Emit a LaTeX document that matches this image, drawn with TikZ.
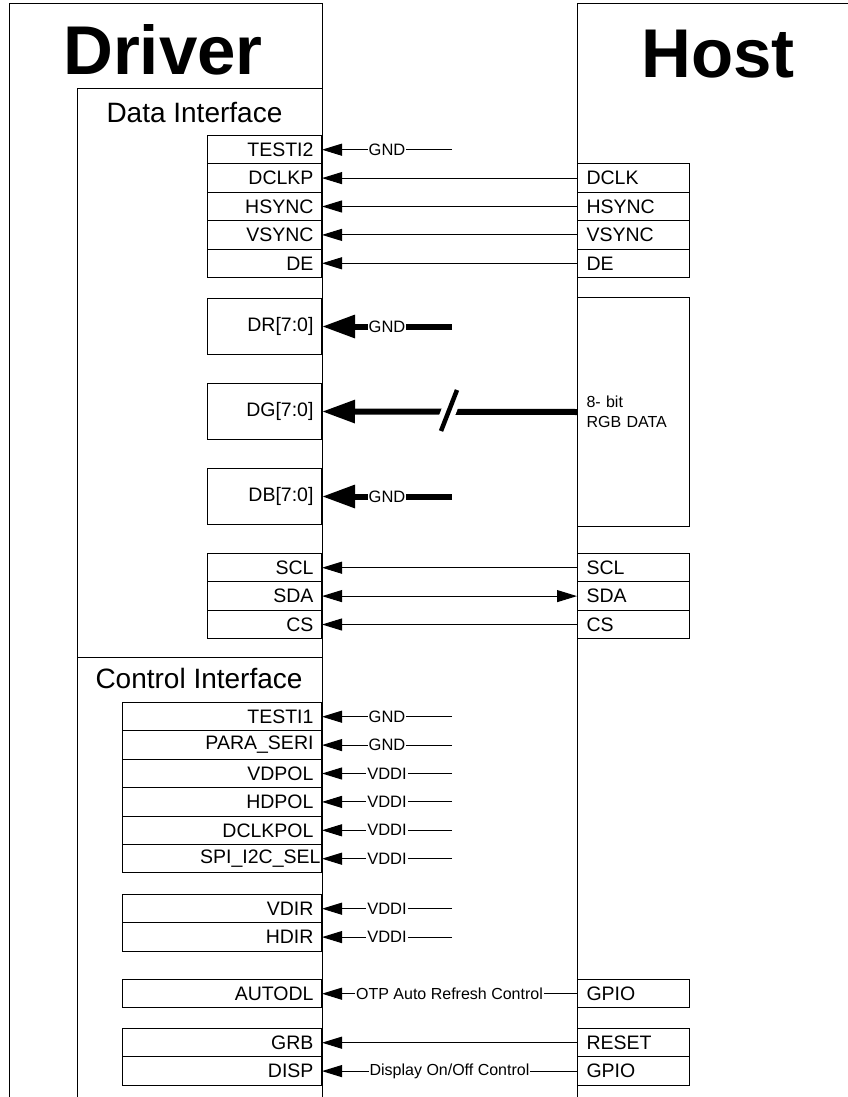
\documentclass[tikz,border=0pt]{standalone}
\usepackage{fontspec}
\setmainfont{Liberation Sans}
\usetikzlibrary{arrows.meta}

\begin{document}
\begin{tikzpicture}[x=1pt, y=-1pt, line width=1pt,
	title/.style={font=\fontsize{69}{72}\selectfont\bfseries},
	section/.style={anchor=base west, inner sep=0pt, font=\fontsize{28}{32}\selectfont},
	drvpin/.style={draw, rectangle, anchor=north east, minimum height=28.4pt, inner xsep=8pt, inner ysep=0pt, align=right, font=\fontsize{19.5}{22}\selectfont},
	datapin/.style={drvpin, text width=98pt},
	ctrlpin/.style={drvpin, text width=183pt},
	hostpin/.style={draw, rectangle, anchor=north west, minimum height=28.4pt, inner xsep=9pt, inner ysep=0pt, text width=94pt, align=left, font=\fontsize{19.5}{22}\selectfont},
	sig/.style={line width=1pt, -{Triangle[length=20pt,width=12pt]}},
	bus/.style={line width=6pt, -{Triangle[length=33pt,width=22pt]}},
	lbl/.style={fill=white, inner xsep=1pt, inner ysep=0pt, font=\fontsize{16.5}{18}\selectfont},
	]
		\useasboundingbox (0,0) rectangle (847,1097);
		% chip outlines
		\draw (9,1105) -- (9,4) -- (322,4) -- (322,1105);
		\draw (577,1105) -- (577,4) -- (855,4);
		\draw (77,1105) -- (77,89) -- (322,89);
		\draw (77,657) -- (322,657);
		\draw (163,75) node[title, anchor=base](drvname){Driver};
		\draw (718,78) node[title, anchor=base](hostname){Host};
		\draw (106,123) node[section](dataif){Data Interface};
		\draw (95,688) node[section](ctrlif){Control Interface};
		% data interface pins
		\draw (322,135) node[datapin](testi2){TESTI2};
		\draw (322,163.4) node[datapin](dclkp){DCLKP};
		\draw (322,191.8) node[datapin](hsyncd){HSYNC};
		\draw (322,220.2) node[datapin](vsyncd){VSYNC};
		\draw (322,248.6) node[datapin](ded){DE};
		\draw (322,298) node[datapin, minimum height=56pt](dr){DR[7:0]};
		\draw (322,383) node[datapin, minimum height=56pt](dg){DG[7:0]};
		\draw (322,468) node[datapin, minimum height=56pt](db){DB[7:0]};
		\draw (322,553) node[datapin](scld){SCL};
		\draw (322,581.4) node[datapin](sdad){SDA};
		\draw (322,609.8) node[datapin](csd){CS};
		\draw (577,163.4) node[hostpin](dclk){DCLK};
		\draw (577,191.8) node[hostpin](hsynch){HSYNC};
		\draw (577,220.2) node[hostpin](vsynch){VSYNC};
		\draw (577,248.6) node[hostpin](deh){DE};
		\draw (577,297) node[hostpin, minimum height=229pt, font=\fontsize{16}{20}\selectfont](rgb){8- bit\\RGB DATA};
		\draw (577,553) node[hostpin](sclh){SCL};
		\draw (577,581.4) node[hostpin](sdah){SDA};
		\draw (577,609.8) node[hostpin](csh){CS};
		% control interface pins
		\draw (322,702) node[ctrlpin](testi1){TESTI1};
		\draw (322,730.4) node[ctrlpin](paraseri){PARA\_SERI};
		\draw (322,758.8) node[ctrlpin](vdpol){VDPOL};
		\draw (322,787.2) node[ctrlpin](hdpol){HDPOL};
		\draw (322,815.6) node[ctrlpin](dclkpol){DCLKPOL};
		\draw (322,844) node[ctrlpin, inner xsep=1pt, text width=197pt](spisel){SPI\_I2C\_SEL};
		\draw (322,894) node[ctrlpin](vdir){VDIR};
		\draw (322,922.4) node[ctrlpin](hdir){HDIR};
		\draw (322,979) node[ctrlpin](autodl){AUTODL};
		\draw (322,1028) node[ctrlpin](grb){GRB};
		\draw (322,1056.4) node[ctrlpin](disp){DISP};
		\draw (577,979) node[hostpin](gpioa){GPIO};
		\draw (577,1028) node[hostpin](reset){RESET};
		\draw (577,1056.4) node[hostpin](gpiob){GPIO};
		% tied levels
		\coordinate (tiea) at ([xshift=130pt]testi2.east);
		\coordinate (tier) at ([xshift=130pt]dr.east);
		\coordinate (tieb) at ([xshift=130pt]db.east);
		\coordinate (tiec) at ([xshift=130pt]testi1.east);
		\coordinate (tied) at ([xshift=130pt]paraseri.east);
		\coordinate (tiee) at ([xshift=130pt]vdpol.east);
		\coordinate (tief) at ([xshift=130pt]hdpol.east);
		\coordinate (tieg) at ([xshift=130pt]dclkpol.east);
		\coordinate (tieh) at ([xshift=130pt]spisel.east);
		\coordinate (tiei) at ([xshift=130pt]vdir.east);
		\coordinate (tiej) at ([xshift=130pt]hdir.east);
		% connections
		\draw[sig] (tiea) -- node[lbl]{GND} (testi2.east);
		\draw[sig] (dclk.west) -- (dclkp.east);
		\draw[sig] (hsynch.west) -- (hsyncd.east);
		\draw[sig] (vsynch.west) -- (vsyncd.east);
		\draw[sig] (deh.west) -- (ded.east);
		\draw[bus] (tier) -- node[lbl]{GND} (dr.east);
		\draw[bus] (rgb.west) -- (dg.east);
		\draw[white, line width=15pt] (441,431) -- (457,390);
		\draw[line width=4.5pt] (441,431) -- (457,390);
		\draw[bus] (tieb) -- node[lbl]{GND} (db.east);
		\draw[sig] (sclh.west) -- (scld.east);
		\draw[sig, {Triangle[length=20pt,width=12pt]}-{Triangle[length=20pt,width=12pt]}] (sdad.east) -- (sdah.west);
		\draw[sig] (csh.west) -- (csd.east);
		\draw[sig] (tiec) -- node[lbl]{GND} (testi1.east);
		\draw[sig] (tied) -- node[lbl]{GND} (paraseri.east);
		\draw[sig] (tiee) -- node[lbl]{VDDI} (vdpol.east);
		\draw[sig] (tief) -- node[lbl]{VDDI} (hdpol.east);
		\draw[sig] (tieg) -- node[lbl]{VDDI} (dclkpol.east);
		\draw[sig] (tieh) -- node[lbl]{VDDI} (spisel.east);
		\draw[sig] (tiei) -- node[lbl]{VDDI} (vdir.east);
		\draw[sig] (tiej) -- node[lbl]{VDDI} (hdir.east);
		\draw[sig] (gpioa.west) -- node[lbl, font=\fontsize{16}{18}\selectfont]{OTP Auto Refresh Control} (autodl.east);
		\draw[sig] (reset.west) -- (grb.east);
		\draw[sig] (gpiob.west) -- node[lbl, font=\fontsize{16}{18}\selectfont]{Display On/Off Control} (disp.east);
	\end{tikzpicture}
\end{document}
